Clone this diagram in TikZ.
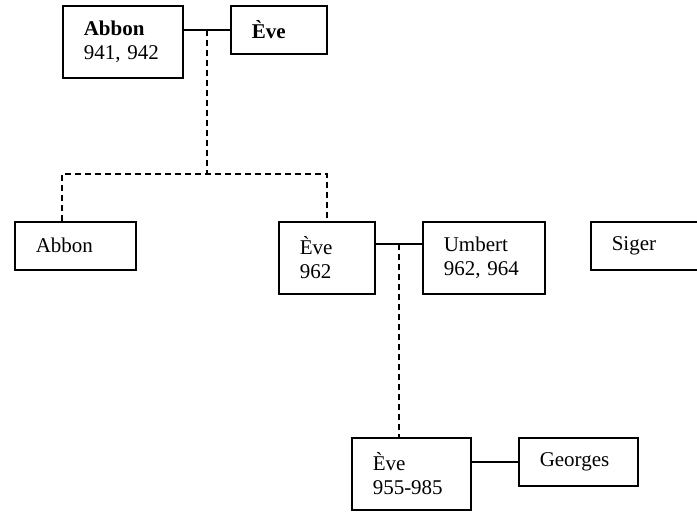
\documentclass[tikz,border=0pt]{standalone}
\usepackage{fontspec}
\setmainfont{Liberation Serif}
\usetikzlibrary{calc}
\begin{document}
\begin{tikzpicture}[x=1pt,y=-1pt,
  person/.style={draw, line width=1.5pt, rectangle, anchor=north west,
    inner xsep=21pt, inner ysep=0pt, align=left,
    font=\fontsize{21}{24}\selectfont},
  tie/.style={line width=1.5pt},
  descent/.style={line width=1.5pt, dash pattern=on 6pt off 4pt}]
\useasboundingbox (0,0) rectangle (697,512);
% people
\node[person, minimum width=120pt, minimum height=72pt, text width=78pt] (a1) at (62,5) {\textbf{Abbon}\\941, 942};
\node[person, minimum width=96pt, minimum height=48pt, text width=54pt] (e1) at (230,5) {\textbf{Ève}};
\node[person, minimum width=121pt, minimum height=48pt, text width=79pt] (a2) at (14,221) {Abbon};
\node[person, minimum width=96pt, minimum height=72pt, text width=54pt] (e2) at (278,221) {Ève\\962};
\node[person, minimum width=122pt, minimum height=72pt, text width=80pt] (u) at (422,221) {Umbert\\962, 964};
\node[person, minimum width=120pt, minimum height=48pt, text width=78pt] (s) at (590,221) {Siger};
\node[person, minimum width=119pt, minimum height=72pt, text width=77pt] (e3) at (351,437) {Ève\\955-985};
\node[person, minimum width=119pt, minimum height=48pt, text width=77pt] (g) at (518,437) {Georges};
% marriage lines
\draw[tie] (e1.west) -- (e1.west -| a1.east);
\coordinate (m1) at ($(e1.west)!0.5!(e1.west -| a1.east)$);
\coordinate (t2) at ($(e2.north east)+(0,23)$);
\draw[tie] (t2) -- (t2 -| u.west);
\coordinate (m2) at ($(t2)!0.5!(t2 -| u.west)$);
\draw[tie] (g.west) -- (g.west -| e3.east);
% descent lines
\coordinate (j1) at ($(m1)+(0,144)$);
\coordinate (ja) at ($(a2.north west)+(48,0)$);
\draw[descent] (m1) -- (j1);
\draw[descent] (ja) -- (ja |- j1) -- (j1 -| e2.north) -- (e2.north);
\draw[descent] (m2) -- (m2 |- e3.north);
\end{tikzpicture}
\end{document}
